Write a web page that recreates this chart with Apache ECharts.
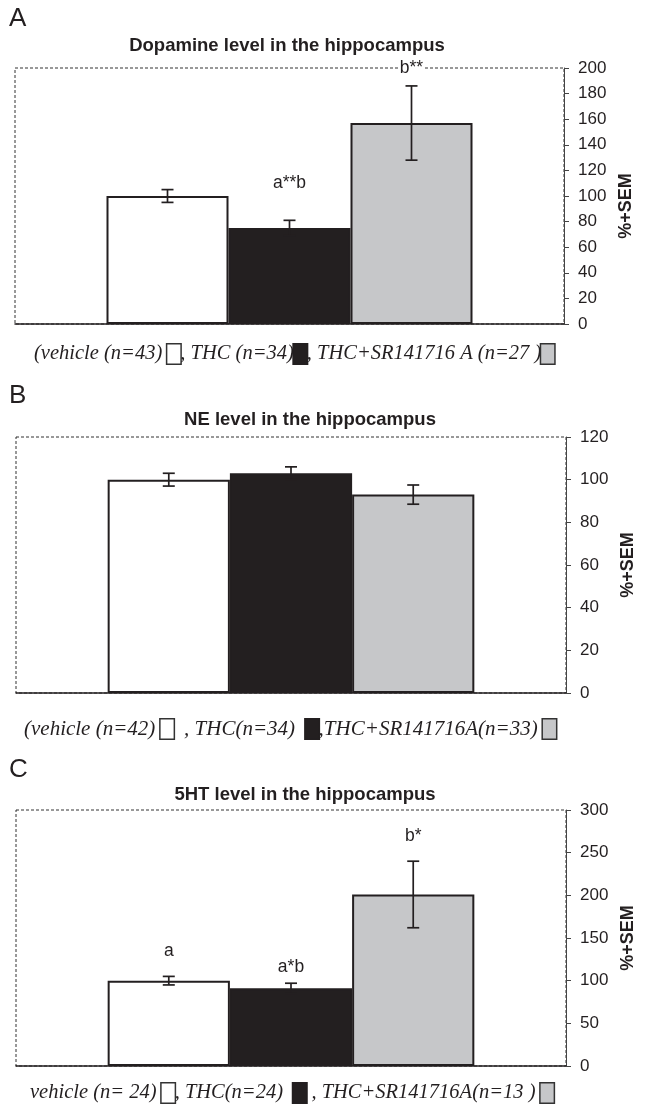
<!DOCTYPE html>
<html>
<head>
<meta charset="utf-8">
<script src="https://cdn.jsdelivr.net/npm/echarts@6/dist/echarts.min.js"></script>
<style>
  html, body { margin: 0; padding: 0; background: #fff; }
  #chart { width: 647px; height: 1109px; }
</style>
</head>
<body>
<div id="chart"></div>
<script>
// ---------- data ----------
const groups = ['vehicle', 'THC', 'THC+SR141716A'];
const groupPos = [1, 2, 3];

// Panel A: dopamine
const daMean = [100, 75, 157];
const daSem = [5, 6, 29];
const daNotes = ['', 'a**b', 'b**'];
const daNoteAt = [null, 110, 200];
const daTicks = { min: 0, max: 200, interval: 20 };

// Panel B: NE
const neMean = [100, 103, 93];
const neSem = [3, 3, 4.5];
const neNotes = ['', '', ''];
const neNoteAt = [null, null, null];
const neTicks = { min: 0, max: 120, interval: 20 };

// Panel C: 5HT
const htMean = [100, 91, 201];
const htSem = [5, 6, 39];
const htNotes = ['a', 'a*b', 'b*'];
const htNoteAt = [134, 116, 269];
const htTicks = { min: 0, max: 300, interval: 50 };

const titles = ['Dopamine level in the hippocampus', 'NE level in the hippocampus', '5HT level in the hippocampus'];
const letters = ['A', 'B', 'C'];
const legends = [
  ['(vehicle (n=43) ', ', THC (n=34)', ', THC+SR141716 A (n=27 )'],
  ['(vehicle (n=42) ', '  , THC(n=34)  ', ',THC+SR141716A(n=33) '],
  ['vehicle (n= 24) ', ', THC(n=24)  ', ' , THC+SR141716A(n=13 ) ']
];

// ---------- styling ----------
const barColors = ['#ffffff', '#231f20', '#c6c7c9'];
const ink = '#231f20';
const sans = '"Liberation Sans", Arial, sans-serif';
const serif = '"Liberation Serif", "Times New Roman", serif';

const panels = [
  { mean: daMean, sem: daSem, notes: daNotes, noteAt: daNoteAt, ticks: daTicks, top: 68, left: 15, right: 83, titleX: 287, titleY: 46, letterY: 19, legendY: 354, legendX: 34, legendSize: 20.5, namePad: [0, 20, 0, 0] },
  { mean: neMean, sem: neSem, notes: neNotes, noteAt: neNoteAt, ticks: neTicks, top: 437, left: 16, right: 81, titleX: 310, titleY: 420, letterY: 396, legendX: 24, legendY: 729, legendSize: 21, namePad: [0, 0, 0, 0] },
  { mean: htMean, sem: htSem, notes: htNotes, noteAt: htNoteAt, ticks: htTicks, top: 810, left: 16, right: 81, titleX: 305, titleY: 795, letterY: 770, legendX: 30, legendY: 1093, legendSize: 20.5, namePad: [0, 0, 0, 0] }
];
const plotH = 256;

const grid = [], xAxis = [], yAxis = [], series = [], graphic = [];

panels.forEach((p, i) => {
  grid.push({
    left: p.left, right: p.right, top: p.top, height: plotH,
    show: true, borderColor: '#333', borderWidth: 1, borderType: [3, 2],
    backgroundColor: 'transparent'
  });
  xAxis.push({
    type: 'value', gridIndex: i, min: -0.25, max: 4.25,
    axisLine: { show: true, onZero: false, lineStyle: { color: ink, width: 1.5 } },
    axisTick: { show: false }, axisLabel: { show: false }, splitLine: { show: false }
  });
  yAxis.push({
    type: 'value', gridIndex: i, position: 'right',
    min: p.ticks.min, max: p.ticks.max, interval: p.ticks.interval,
    name: '%+SEM', nameLocation: 'middle', nameGap: 53, nameRotate: 90,
    nameTextStyle: { fontFamily: sans, fontWeight: 'bold', fontSize: 18, color: ink, padding: p.namePad },
    axisLine: { show: true, onZero: false, lineStyle: { color: '#444', width: 1 } },
    axisTick: { show: true, length: 5, lineStyle: { color: '#444' } },
    axisLabel: { fontFamily: sans, fontSize: 17, color: ink, margin: 14 },
    splitLine: { show: false }
  });
  series.push({
    type: 'bar', xAxisIndex: i, yAxisIndex: i, barWidth: '100%',
    data: groupPos.map((x, k) => ({
      value: [x, p.mean[k]],
      itemStyle: { color: barColors[k], borderColor: ink, borderWidth: 2 }
    })),
    z: 2
  });
  series.push({
    type: 'custom', xAxisIndex: i, yAxisIndex: i,
    data: groupPos.map((x, k) => [x, p.mean[k], p.sem[k]]),
    encode: { x: 0, y: 1 },
    z: 5,
    renderItem: function (params, api) {
      const x = api.value(0), m = api.value(1), s = api.value(2);
      const t = api.coord([x, m + s]);
      const b = api.coord([x, m - s]);
      const h = 6;
      const st = { stroke: ink, lineWidth: 1.7 };
      return { type: 'group', children: [
        { type: 'line', shape: { x1: t[0], y1: t[1], x2: b[0], y2: b[1] }, style: st },
        { type: 'line', shape: { x1: t[0] - h, y1: t[1], x2: t[0] + h, y2: t[1] }, style: st },
        { type: 'line', shape: { x1: b[0] - h, y1: b[1], x2: b[0] + h, y2: b[1] }, style: st }
      ] };
    }
  });
  const noteData = [];
  groupPos.forEach((x, k) => { if (p.notes[k]) noteData.push({ value: [x, p.noteAt[k]], name: p.notes[k] }); });
  series.push({
    type: 'scatter', xAxisIndex: i, yAxisIndex: i, symbolSize: 0, clip: false,
    itemStyle: { opacity: 1 },
    data: noteData, z: 6, silent: true,
    label: { show: true, position: 'inside', formatter: (d) => d.name, fontFamily: sans, fontSize: 17.5, color: ink,
      backgroundColor: '#fff', padding: [0, 1] }
  });

  graphic.push({
    type: 'text', x: 9, y: p.letterY,
    style: { text: letters[i], font: '26px ' + sans, fill: ink, verticalAlign: 'middle', align: 'left' }
  });
  graphic.push({
    type: 'text', x: p.titleX, y: p.titleY,
    style: { text: titles[i], font: 'bold 18.5px ' + sans, fill: ink, align: 'center', verticalAlign: 'middle' }
  });
  const L = legends[i];
  const fs = p.legendSize;
  graphic.push({
    type: 'text', x: p.legendX, y: p.legendY,
    style: {
      text: '{t|' + L[0] + '}{w|}{t|' + L[1] + '}{k|}{t|' + L[2] + '}{g|}',
      align: 'left', verticalAlign: 'middle',
      rich: {
        t: { font: 'italic ' + fs + 'px ' + serif, fill: ink },
        w: { width: 13, height: 19, backgroundColor: '#fff', borderColor: '#333', borderWidth: 1.5 },
        k: { width: 13, height: 19, backgroundColor: ink, borderColor: ink, borderWidth: 1.5 },
        g: { width: 13, height: 19, backgroundColor: barColors[2], borderColor: '#333', borderWidth: 1.5 }
      }
    }
  });
});

const chart = echarts.init(document.getElementById('chart'), null, { renderer: 'canvas' });
chart.setOption({
  animation: false,
  backgroundColor: '#fff',
  grid, xAxis, yAxis, series, graphic
});
</script>
</body>
</html>
